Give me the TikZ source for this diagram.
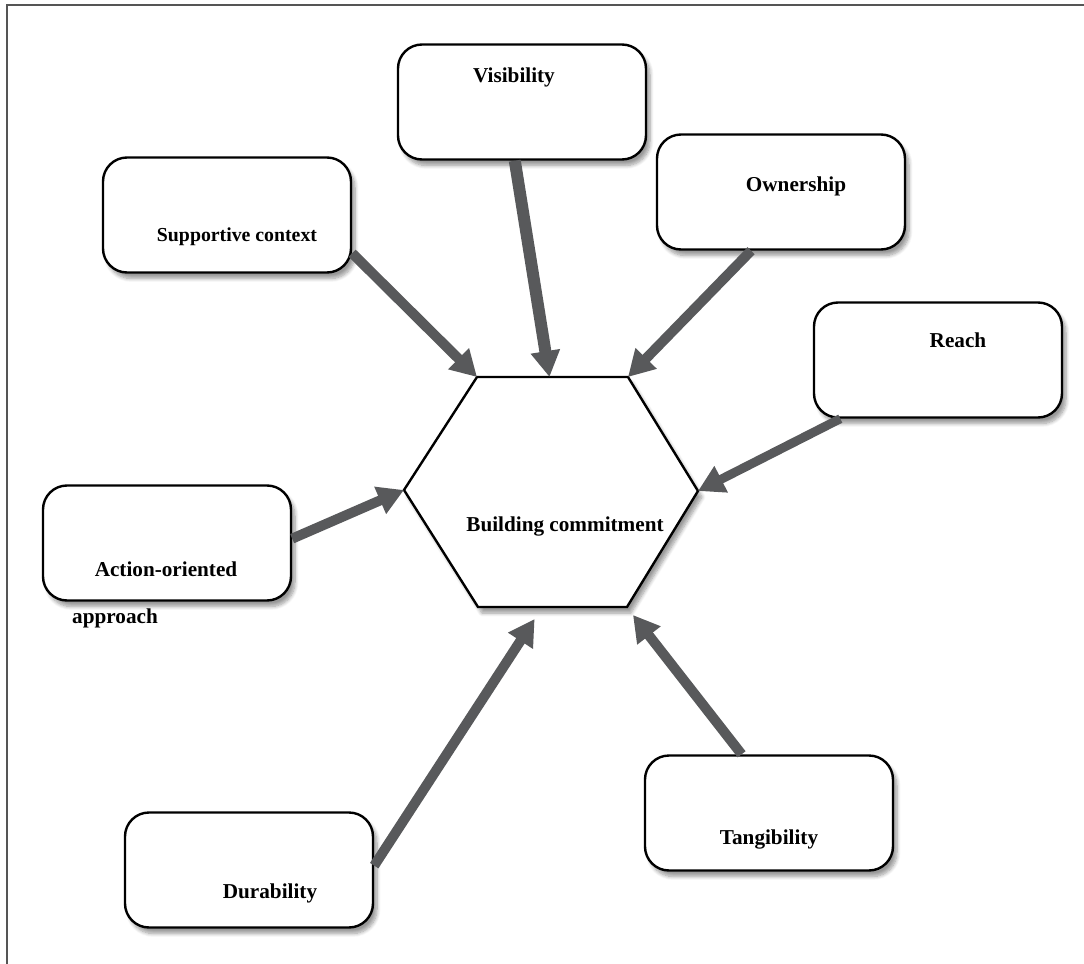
\documentclass[tikz,border=0pt]{standalone}
\usepackage{fontspec}
\setmainfont{Liberation Serif}
\usetikzlibrary{arrows.meta,shadows.blur,calc}
\definecolor{arrowgray}{RGB}{88,89,91}
\definecolor{framegray}{RGB}{85,85,85}

\begin{document}
\begin{tikzpicture}[x=0.5pt,y=-0.5pt,
  factor/.style={draw,line width=1.2pt,rectangle,rounded corners=12pt,minimum width=124pt,
                 minimum height=57.5pt,fill=white,
                 blur shadow={shadow xshift=2pt,shadow yshift=-3pt,shadow blur steps=8}},
  hexa/.style={draw,line width=1.2pt,fill=white,
               blur shadow={shadow xshift=2pt,shadow yshift=-3pt,shadow blur steps=8}},
  lbl/.style={anchor=base,inner sep=0pt,font=\fontsize{10.6}{12.7}\selectfont\bfseries},
  push/.style={-{Triangle[width=14pt,length=13pt]},line width=5pt,draw=arrowgray,fill=arrowgray}]
  \useasboundingbox (0,0) rectangle (1084,964);
  \draw[framegray,line width=1pt] (1084,5) -- (7,5) -- (7,964);

  \node[factor] (sup) at (227,215) {};
  \node[factor] (vis) at (522,102) {};
  \node[factor] (own) at (781,192) {};
  \node[factor] (rea) at (938,360) {};
  \node[factor] (act) at (167,543) {};
  \node[factor] (tan) at (769,813) {};
  \node[factor] (dur) at (249,870) {};

  \node[lbl,font=\fontsize{9.9}{12}\selectfont\bfseries] (sup-t) at (237,241) {Supportive context};
  \node[lbl] (vis-t) at (514,82) {Visibility};
  \node[lbl] (own-t) at (796,191) {Ownership};
  \node[lbl] (rea-t) at (958,347) {Reach};
  \node[lbl] (act-t) at (166,576) {Action-oriented};
  \node[lbl] (act-t2) at (115,623) {approach};
  \node[lbl] (tan-t) at (769,844) {Tangibility};
  \node[lbl] (dur-t) at (270,898) {Durability};

  \coordinate (h1) at (477,377);
  \coordinate (h2) at (628,377);
  \coordinate (h3) at (698,491);
  \coordinate (h4) at (627,607);
  \coordinate (h5) at (478,607);
  \coordinate (h6) at (404,490);
  \draw[hexa] (h1) -- (h2) -- (h3) -- (h4) -- (h5) -- (h6) -- cycle;
  \node[lbl] (bc) at (565,531) {Building commitment};

  \coordinate (h-top) at ($(h1)!0.48!(h2)$);
  \coordinate (h-bot) at ([yshift=-6pt]$(h5)!0.38!(h4)$);
  \coordinate (h-br) at ([shift={(3pt,-4pt)}]h4);

  \draw[push] (sup.-17) -- (h1);
  \draw[push,line width=6pt] (vis.-97) -- (h-top);
  \draw[push] (own.-117) -- (h2);
  \draw[push,line width=4.5pt] (rea.-149) -- (h3);
  \draw[push] (act.2) -- (h6);
  \draw[push] (dur.2) -- (h-bot);
  \draw[push] (tan.115) -- (h-br);
\end{tikzpicture}
\end{document}
